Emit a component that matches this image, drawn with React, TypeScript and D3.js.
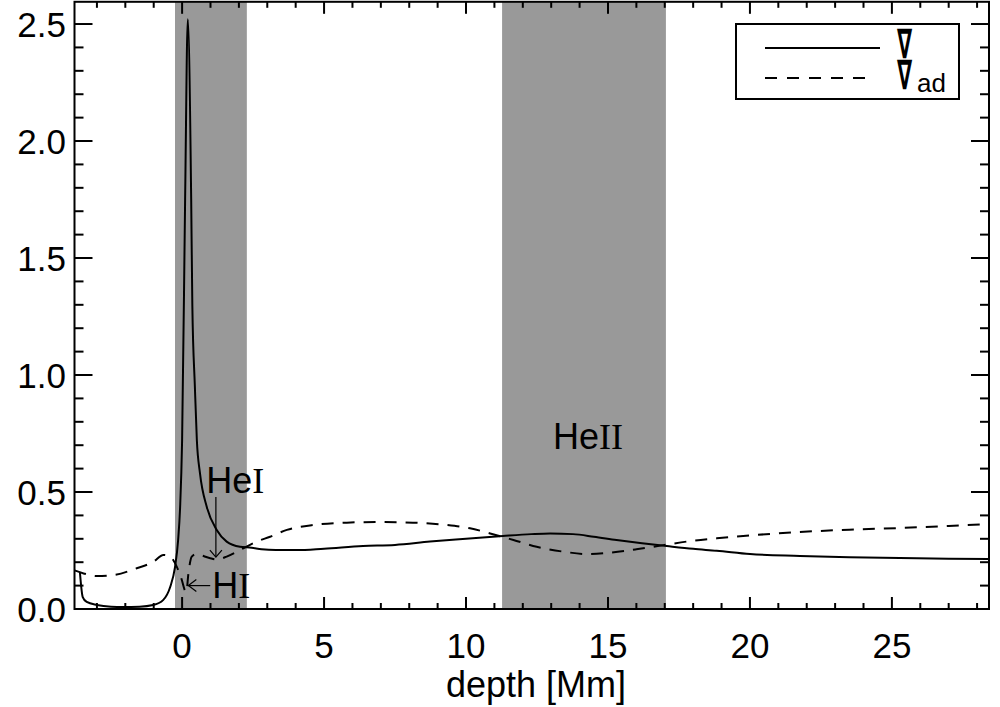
import React from 'react';
import * as d3 from 'd3';

// temperature gradient (solid) and adiabatic gradient (dashed) vs depth [Mm]
const gradDepth = [-3.6, -3.5, -3.36, -3.0, -2.5, -2.08, -1.5, -1.02, -0.67, -0.42, -0.25, -0.14, -0.07, 0.0, 0.106, 0.2, 0.32, 0.36, 0.45, 0.52, 0.63, 0.87, 1.22, 1.57, 2.04, 2.45, 2.8, 3.3, 4.04, 5.0, 6.37, 7.5, 8.73, 10.0, 11.3, 12.3, 12.96, 13.77, 14.5, 15.3, 16.2, 17.07, 18.0, 18.83, 20.0, 21.76, 23.5, 25.28, 27.0, 28.42];
const gradValue = [0.158, 0.051, 0.03, 0.017, 0.01, 0.009, 0.01, 0.017, 0.038, 0.094, 0.179, 0.295, 0.436, 0.72, 1.75, 2.52, 1.75, 1.3, 0.95, 0.72, 0.58, 0.436, 0.338, 0.288, 0.266, 0.262, 0.255, 0.252, 0.252, 0.258, 0.269, 0.274, 0.288, 0.3, 0.312, 0.32, 0.323, 0.32, 0.309, 0.295, 0.281, 0.269, 0.257, 0.249, 0.235, 0.227, 0.221, 0.218, 0.215, 0.214];

const adDepth = [-3.79, -3.47, -3.0, -2.42, -1.6, -1.01, -0.66, -0.42, -0.19, -0.01, 0.08, 0.15, 0.22, 0.34, 0.5, 0.63, 0.99, 1.22, 1.57, 2.04, 2.63, 3.1, 3.69, 4.62, 5.8, 6.97, 8.13, 9.32, 10.14, 10.85, 11.67, 12.49, 13.43, 14.25, 15.07, 16.0, 16.95, 17.89, 18.83, 19.76, 21.76, 23.5, 25.28, 27.0, 28.42];
const adValue = [0.165, 0.152, 0.141, 0.145, 0.174, 0.202, 0.231, 0.224, 0.181, 0.124, 0.085, 0.072, 0.15, 0.224, 0.235, 0.231, 0.217, 0.212, 0.224, 0.252, 0.288, 0.309, 0.338, 0.359, 0.369, 0.372, 0.369, 0.359, 0.345, 0.323, 0.295, 0.266, 0.245, 0.235, 0.241, 0.255, 0.273, 0.29, 0.302, 0.312, 0.329, 0.339, 0.346, 0.355, 0.363];

// ionisation zones (shaded)
const zoneStart = [-0.25, 11.27];
const zoneEnd = [2.28, 17.04];

const xTicks = [0, 5, 10, 15, 20, 25];
const yTicks = [0, 0.5, 1.0, 1.5, 2.0, 2.5];
const yTickLabels = ['0.0', '0.5', '1.0', '1.5', '2.0', '2.5'];

const sans = 'Liberation Sans, Arial, Helvetica, sans-serif';
const serif = 'Liberation Serif, Times New Roman, serif';
const nablaFont = 'DejaVu Sans, sans-serif';

export default function App() {
  const x = d3.scaleLinear().domain([-3.79, 28.42]).range([74.5, 989]);
  const y = d3.scaleLinear().domain([0, 2.595]).range([609, 1.8]);
  const [x0, x1] = x.range();
  const [yb, yt] = y.range();

  const line = d3.line<number>()
    .x(d => d[0])
    .y(d => d[1])
    .curve(d3.curveMonotoneX);
  const gradPath = line(gradDepth.map((d, i) => [x(d), y(gradValue[i])]) as any);
  const adPath = line(adDepth.map((d, i) => [x(d), y(adValue[i])]) as any);

  const xMinor = d3.range(-3, 29);
  const yMinor = d3.range(0, 26).map(i => i / 10);

  return (
    <svg width={1000} height={707} style={{ position: 'absolute', left: 0, top: 0 }}>
      <rect width={1000} height={707} fill="#fff" />
      <defs>
        <clipPath id="plot">
          <rect x={x0} y={yt} width={x1 - x0} height={yb - yt} />
        </clipPath>
      </defs>

      {zoneStart.map((s, i) => (
        <rect key={i} x={x(s)} y={yt} width={x(zoneEnd[i]) - x(s)} height={yb - yt} fill="#999999" />
      ))}

      <g clipPath="url(#plot)" fill="none" stroke="#000" strokeWidth={2}>
        <path d={gradPath!} />
        <path d={adPath!} strokeDasharray="12,9" />
      </g>

      {/* axes frame + ticks */}
      <g stroke="#000" strokeWidth={2}>
        <rect x={x0} y={yt} width={x1 - x0} height={yb - yt} fill="none" />
        {xMinor.map(v => {
          const major = v % 5 === 0;
          const len = major ? 12 : 6;
          return (
            <g key={'x' + v}>
              <line x1={x(v)} x2={x(v)} y1={yb} y2={yb - len} />
              <line x1={x(v)} x2={x(v)} y1={yt} y2={yt + len} />
            </g>
          );
        })}
        {yMinor.map((v, i) => {
          const major = i % 5 === 0;
          const len = major ? 18 : 9;
          return (
            <g key={'y' + i}>
              <line x1={x0} x2={x0 + len} y1={y(v)} y2={y(v)} />
              <line x1={x1} x2={x1 - len} y1={y(v)} y2={y(v)} />
            </g>
          );
        })}
      </g>

      <g fontFamily={sans} fontSize={35} fill="#000">
        {xTicks.map(v => (
          <text key={v} x={x(v)} y={658} textAnchor="middle">{v}</text>
        ))}
        {yTicks.map((v, i) => (
          <text key={v} x={66} y={y(v) + 12.5} textAnchor="end">{yTickLabels[i]}</text>
        ))}
        <text x={536} y={697} fontSize={36} textAnchor="middle">depth [Mm]</text>
      </g>

      {/* annotations */}
      <g fontSize={36} fill="#000">
        <text x={x(13.06)} y={y(0.684)}>
          <tspan fontFamily={sans}>He</tspan><tspan fontFamily={serif}>II</tspan>
        </text>
        <text x={x(0.85)} y={y(0.496)}>
          <tspan fontFamily={sans}>He</tspan><tspan fontFamily={serif}>I</tspan>
        </text>
        <text x={x(1.06)} y={y(0.047)}>
          <tspan fontFamily={sans}>H</tspan><tspan fontFamily={serif}>I</tspan>
        </text>
      </g>
      <g stroke="#000" strokeWidth={1.2} fill="none">
        <line x1={x(1.19)} x2={x(1.19)} y1={y(0.479)} y2={y(0.222)} />
        <polyline points={`${x(1.19) - 6},${y(0.222) - 7} ${x(1.19)},${y(0.222)} ${x(1.19) + 6},${y(0.222) - 7}`} />
        <line x1={x(0.99)} x2={x(0.22)} y1={y(0.1)} y2={y(0.1)} />
        <polyline points={`${x(0.22) + 8},${y(0.1) - 6} ${x(0.22)},${y(0.1)} ${x(0.22) + 8},${y(0.1) + 6}`} />
      </g>

      {/* legend */}
      <g>
        <rect x={736} y={24} width={223} height={75} fill="#fff" stroke="#000" strokeWidth={2} />
        <line x1={765} x2={880} y1={48} y2={48} stroke="#000" strokeWidth={2} />
        <line x1={765} x2={868} y1={78} y2={78} stroke="#000" strokeWidth={2} strokeDasharray="12,10" />
        <text transform="translate(897,58) scale(0.53,1)" fontFamily={nablaFont} fontWeight="bold" fontSize={41}>∇</text>
        <text transform="translate(897,89) scale(0.53,1)" fontFamily={nablaFont} fontWeight="bold" fontSize={41}>∇</text>
        <text x={917} y={92} fontFamily={sans} fontSize={26}>ad</text>
      </g>
    </svg>
  );
}
